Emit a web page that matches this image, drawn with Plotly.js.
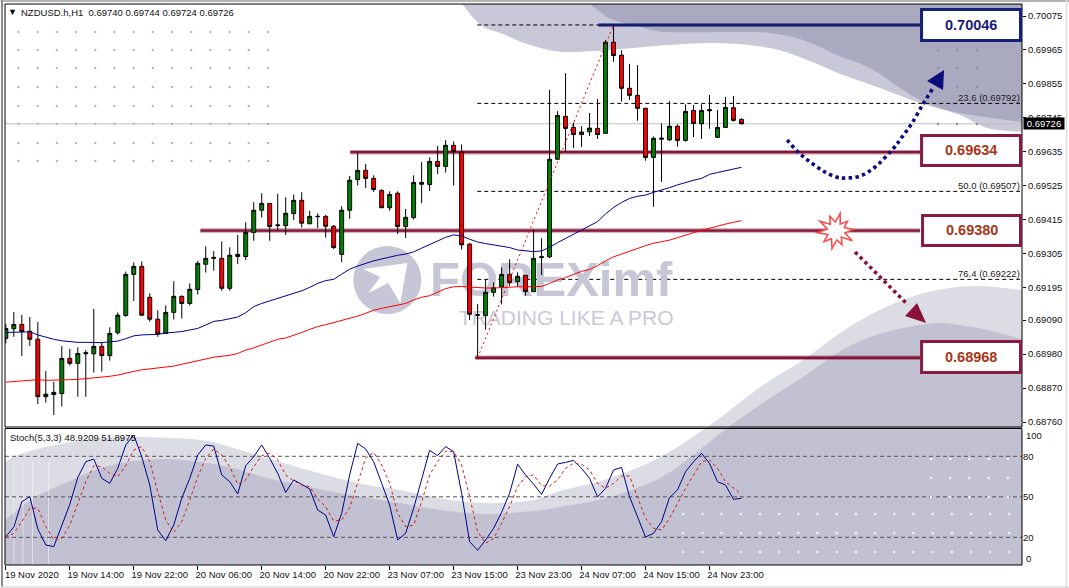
<!DOCTYPE html>
<html><head><meta charset="utf-8">
<script src="https://cdn.plot.ly/plotly-3.0.1.min.js"></script>
<style>html,body{margin:0;padding:0;background:#fff;overflow:hidden}</style>
</head><body><div id="chart" style="width:1069px;height:588px"></div>
<script>
// ---------- values ----------
const opens=[0.69031,0.69062,0.69076,0.69054,0.69028,0.68842,0.68849,0.68852,0.68966,0.68950,
0.68981,0.68981,0.69005,0.68975,0.69049,0.69105,0.69238,0.69264,0.69164,0.69093,
0.69047,0.69115,0.69167,0.69144,0.69189,0.69271,0.69290,0.69290,0.69193,0.69303,
0.69296,0.69374,0.69446,0.69468,0.69396,0.69396,0.69435,0.69478,0.69402,0.69425,
0.69426,0.69394,0.69303,0.69446,0.69545,0.69575,0.69549,0.69510,0.69454,0.69501,
0.69393,0.69422,0.69536,0.69529,0.69604,0.69588,0.69656,0.69634,0.69336,0.69106,
0.69105,0.69180,0.69198,0.69238,0.69215,0.69235,0.69182,0.69293,0.69295,0.69611,
0.69750,0.69714,0.69691,0.69700,0.69711,0.69695,0.69990,0.69948,0.69841,0.69818,
0.69776,0.69617,0.69676,0.69674,0.69718,0.69672,0.69769,0.69726,0.69768,0.69682,
0.69714,0.69778,0.69740];
const closes=[0.69063,0.69076,0.69053,0.69028,0.68842,0.68850,0.68856,0.68966,0.68950,0.68982,
0.68984,0.69005,0.68975,0.69047,0.69106,0.69238,0.69264,0.69106,0.69093,0.69045,
0.69115,0.69167,0.69144,0.69190,0.69274,0.69290,0.69293,0.69193,0.69300,0.69296,
0.69374,0.69446,0.69468,0.69393,0.69398,0.69436,0.69478,0.69404,0.69426,0.69426,
0.69394,0.69325,0.69446,0.69543,0.69575,0.69549,0.69513,0.69454,0.69497,0.69393,
0.69423,0.69536,0.69530,0.69604,0.69588,0.69656,0.69637,0.69334,0.69109,0.69107,
0.69180,0.69195,0.69238,0.69212,0.69232,0.69183,0.69290,0.69295,0.69611,0.69753,
0.69711,0.69691,0.69699,0.69712,0.69691,0.69990,0.69947,0.69841,0.69818,0.69776,
0.69617,0.69679,0.69679,0.69718,0.69672,0.69766,0.69727,0.69769,0.69771,0.69714,
0.69779,0.69737,0.69726];
const highs=[0.69078,0.69116,0.69107,0.69100,0.69084,0.68925,0.68890,0.69006,0.68997,0.69002,
0.68993,0.69126,0.69017,0.69067,0.69115,0.69247,0.69277,0.69280,0.69177,0.69122,
0.69138,0.69216,0.69170,0.69209,0.69282,0.69329,0.69314,0.69345,0.69326,0.69366,
0.69407,0.69472,0.69501,0.69468,0.69499,0.69488,0.69497,0.69504,0.69444,0.69436,
0.69431,0.69398,0.69459,0.69557,0.69632,0.69596,0.69559,0.69514,0.69507,0.69507,
0.69450,0.69559,0.69602,0.69617,0.69654,0.69673,0.69669,0.69659,0.69339,0.69142,
0.69221,0.69212,0.69261,0.69287,0.69245,0.69235,0.69384,0.69355,0.69835,0.69767,
0.69890,0.69730,0.69718,0.69761,0.69806,0.69997,0.70046,0.69964,0.69920,0.69916,
0.69778,0.69685,0.69727,0.69799,0.69724,0.69789,0.69787,0.69789,0.69819,0.69771,
0.69813,0.69816,0.69744];
const lows=[0.69015,0.69036,0.68974,0.69006,0.68818,0.68823,0.68783,0.68810,0.68943,0.68842,
0.68842,0.68920,0.68923,0.68959,0.69043,0.69101,0.69152,0.69103,0.69085,0.69036,
0.69047,0.69092,0.69095,0.69137,0.69173,0.69244,0.69250,0.69185,0.69185,0.69272,
0.69285,0.69347,0.69422,0.69347,0.69382,0.69366,0.69414,0.69390,0.69402,0.69388,
0.69357,0.69320,0.69278,0.69418,0.69526,0.69518,0.69505,0.69454,0.69444,0.69369,
0.69356,0.69416,0.69469,0.69508,0.69563,0.69568,0.69526,0.69319,0.69090,0.68968,
0.69059,0.69166,0.69141,0.69201,0.69198,0.69169,0.69182,0.69236,0.69291,0.69609,
0.69636,0.69647,0.69651,0.69686,0.69677,0.69695,0.69927,0.69798,0.69803,0.69736,
0.69606,0.69457,0.69538,0.69670,0.69652,0.69668,0.69683,0.69677,0.69710,0.69680,
0.69714,0.69733,0.69724];
const maBlue=[0.69050,0.69050,0.69050,0.69052,0.69042,0.69034,0.69028,0.69023,0.69020,0.69018,
0.69018,0.69018,0.69017,0.69020,0.69022,0.69030,0.69039,0.69042,0.69043,0.69044,
0.69048,0.69050,0.69053,0.69058,0.69063,0.69074,0.69086,0.69089,0.69095,0.69100,
0.69114,0.69134,0.69144,0.69152,0.69161,0.69169,0.69177,0.69185,0.69196,0.69209,
0.69218,0.69222,0.69239,0.69255,0.69265,0.69274,0.69282,0.69288,0.69295,0.69300,
0.69304,0.69311,0.69323,0.69334,0.69346,0.69358,0.69366,0.69363,0.69352,0.69343,
0.69338,0.69333,0.69329,0.69325,0.69317,0.69314,0.69312,0.69314,0.69326,0.69341,
0.69355,0.69368,0.69382,0.69396,0.69409,0.69434,0.69455,0.69471,0.69484,0.69491,
0.69495,0.69504,0.69511,0.69519,0.69528,0.69536,0.69543,0.69549,0.69562,0.69568,
0.69573,0.69579,0.69585];
const maRed=[0.68889,0.68891,0.68894,0.68897,0.68897,0.68895,0.68895,0.68896,0.68897,0.68898,
0.68900,0.68903,0.68906,0.68908,0.68912,0.68919,0.68924,0.68929,0.68932,0.68935,
0.68938,0.68941,0.68947,0.68952,0.68958,0.68964,0.68970,0.68972,0.68976,0.68982,
0.68993,0.69000,0.69010,0.69020,0.69028,0.69032,0.69040,0.69050,0.69060,0.69069,
0.69075,0.69082,0.69087,0.69094,0.69103,0.69112,0.69122,0.69128,0.69134,0.69138,
0.69144,0.69155,0.69164,0.69169,0.69181,0.69192,0.69198,0.69199,0.69197,0.69195,
0.69194,0.69194,0.69196,0.69197,0.69198,0.69198,0.69198,0.69199,0.69209,0.69220,
0.69228,0.69239,0.69248,0.69254,0.69266,0.69282,0.69295,0.69304,0.69314,0.69322,
0.69331,0.69339,0.69344,0.69349,0.69357,0.69366,0.69373,0.69381,0.69388,0.69396,
0.69401,0.69407,0.69412];
const stochMain=[20.5,27.6,46.4,50.1,26.2,14.3,13.1,29.1,44.4,64.4,
76,78,63.7,60,71.1,88.4,95.8,79.7,58.8,25.4,
17.5,29.1,48.9,63.7,81,88.4,87.6,66.2,61.2,52.1,
73.1,79.7,88.4,78.5,67.4,53.3,62.5,59.3,55.8,40.2,
36.5,20.5,37.8,66.2,89.6,85.4,76,60,43.9,18,
23,41.5,62.5,84.4,80.5,87.2,83.4,52.6,16.8,10.4,
18,26.7,38.5,52.6,74.1,66.2,59.3,51.8,63.7,74.3,
75.5,77,71.1,63.7,49.9,56.3,69.9,71.8,50.1,35.3,
20.2,23,31.6,49.4,55.1,68.6,76,82.2,74.8,61.2,
58.8,48.1,48.92];
const stochSignal=[19.7,23,31.6,41.5,41.5,27.9,18,19.2,29.1,45.2,
61.2,73.1,72.3,67.4,64.9,73.1,84.7,87.2,76,53.8,
32.8,23.7,31.6,47.6,64.9,78.5,85.4,81,72.3,59.3,
62.5,72.3,80.5,82.2,77.3,66.2,61.7,58.8,57.5,48.4,
42.7,32.1,32.8,42,61.2,78.5,83,73.6,60,37.8,
27.9,29.1,46.4,66.2,76,83.9,83.4,73.6,50.1,24.2,
15.6,19.2,30.4,42.7,57.5,64.9,66.2,58.3,58,62.5,
71.1,74.8,74.1,69.9,60,56.3,60,65.4,65.4,50.1,
34.1,26.7,25.4,34.1,45.2,56.3,66.2,76,77.3,71.1,
61.2,56.3,51.9];
const dateTickLabels=["19 Nov 2020","19 Nov 14:00","19 Nov 22:00","20 Nov 06:00","20 Nov 14:00","20 Nov 22:00","23 Nov 07:00","23 Nov 15:00","23 Nov 23:00","24 Nov 07:00","24 Nov 15:00","24 Nov 23:00"];
const priceTicks=[0.70075,0.69965,0.69855,0.69745,0.69635,0.69525,0.69415,0.69305,0.69195,0.69090,0.68980,0.68870,0.68760];
const priceTickLabels=["0.70075","0.69965","0.69855","0.69745","0.69635","0.69525","0.69415","0.69305","0.69195","0.69090","0.68980","0.68870","0.68760"];
const stochLevels=[80,50,20];
const resistanceBlue=0.70046, levelA=0.69634, levelB=0.69380, levelC=0.68968, lastPrice=0.69726;
const fibLevels=[0.69792,0.69507,0.69222], fibNames=["23.6 (0.69792)","50.0 (0.69507)","76.4 (0.69222)"];

// ---------- layout geometry ----------
const W=1069,H=588,L=4.5,R=1022,T=4,B=565,mainBot=427,stochTop=428.5;
const px=x=>(x-L)/(R-L), py=y=>(B-y)/(B-T);
const xRange=[-0.104,127.08], yRange=[0.687438,0.701139], sRange=[-0.5,100.6];
const toX=x=>xRange[0]+(x-L)/(R-L)*(xRange[1]-xRange[0]);
const toY=y=>yRange[1]-(y-T)/(mainBot-T)*(yRange[1]-yRange[0]);
const toS=y=>sRange[1]-(y-stochTop)/(B-stochTop)*(sRange[1]-sRange[0]);
const idx=opens.map((_,i)=>i);
const FONT='"Liberation Sans",Arial,sans-serif';

function smooth(pts){ // Catmull-Rom through pixel points, returns path segments in paper coords
  let s=`M ${px(pts[0][0])} ${py(pts[0][1])}`;
  for(let i=0;i<pts.length-1;i++){
    const p0=pts[Math.max(i-1,0)],p1=pts[i],p2=pts[i+1],p3=pts[Math.min(i+2,pts.length-1)];
    const c1=[p1[0]+(p2[0]-p0[0])/6,p1[1]+(p2[1]-p0[1])/6],c2=[p2[0]-(p3[0]-p1[0])/6,p2[1]-(p3[1]-p1[1])/6];
    s+=` C ${px(c1[0])} ${py(c1[1])} ${px(c2[0])} ${py(c2[1])} ${px(p2[0])} ${py(p2[1])}`;
  }
  return s;
}
const poly=pts=>'M '+pts.map(p=>`${px(p[0])} ${py(p[1])}`).join(' L ')+' Z';
const lineTo=pts=>pts.map(p=>` L ${px(p[0])} ${py(p[1])}`).join('');
const pFill=(d,c)=>({type:'path',xref:'paper',yref:'paper',path:d,fillcolor:c,line:{width:0},layer:'below'});

const bandLightPts=[[4.5,463],[17,455],[50,446],[100,438],[140,437],[200,440],[233,448],[267,458],[300,468],[333,477],[367,485],[400,490],[433,497],[467,502],[500,503],[533,500],[560,491],[610,478],[660,457],[710,425],[763,385],[803,360],[837,335],[870,315],[903,300],[937,290],[977,286],[1022,290]];
const bandMidPts=[[4.5,520],[33,498],[67,482],[100,468],[133,461],[167,459],[200,462],[233,468],[267,478],[300,485],[333,492],[367,498],[400,503],[433,509],[483,514],[533,511],[560,507],[610,497],[660,478],[693,455],[727,428],[770,398],[803,377],[837,353],[870,337],[903,328],[937,323],[960,325],[987,330],[1022,339]];
const topLightPts=[[462,4],[475,20],[485,28],[500,33],[530,45],[567,52],[633,48],[667,45],[717,43],[770,48],[807,60],[843,75],[877,87],[920,103],[960,115],[987,128],[1022,132]];
const topDarkPts=[[590,4],[600,12],[613,20],[640,27],[667,32],[733,32],[770,33],[803,40],[837,55],[870,68],[903,90],[927,103],[960,113],[1022,122]];

const shapes=[
  pFill(smooth(bandLightPts)+lineTo([[1022,565],[4.5,565]])+' Z','#dcdce5'),
  pFill(smooth(bandMidPts)+lineTo([[1022,565],[4.5,565]])+' Z','#c1c1d1'),
  pFill(smooth(topLightPts)+lineTo([[1022,4]])+' Z','#c8c8d8'),
  pFill(smooth(topDarkPts)+lineTo([[1022,4]])+' Z','#a9a9bf'),
];
// faint streaks in the indicator pane
[13.5,22.5,32,48].forEach(x=>shapes.push({type:'line',xref:'paper',yref:'paper',x0:px(x),x1:px(x),y0:py(462),y1:py(565),line:{color:'rgba(255,255,255,0.5)',width:1},layer:'below'}));
const hLine=(x0,x1,y,color,width,dash,layer)=>({type:'line',xref:'paper',yref:'y',x0:px(x0),x1:px(x1),y0:y,y1:y,line:{color,width,dash:dash||'solid'},layer:layer||'below'});
// current price, fib and level lines
shapes.push(hLine(4.5,1022,lastPrice,'#c0c0c0',1));
fibLevels.forEach(f=>shapes.push(hLine(477,1020,f,'#000',1,'4px,3px')));
shapes.push(hLine(477,600,resistanceBlue,'#000',1,'4px,3px'));
[[350,levelA],[200,levelB],[475,levelC]].forEach(([x,y])=>{
  shapes.push(hLine(x,920,y,'rgba(139,26,62,0.45)',4.5));
  shapes.push(hLine(x,920,y,'#821638',2.4));
});
shapes.push(hLine(598,920,resistanceBlue,'rgba(20,30,130,0.4)',4));
shapes.push(hLine(598,920,resistanceBlue,'#14206e',2.4));
stochLevels.forEach(v=>shapes.push({type:'line',xref:'paper',yref:'y2',x0:0,x1:1,y0:v,y1:v,line:{color:'#555',width:1,dash:'4px,3px'},layer:'below'}));
// fib trend line
shapes.push({type:'line',xref:'x',yref:'y',x0:59,x1:76,y0:levelC,y1:resistanceBlue,line:{color:'#ff0000',width:1,dash:'2px,3px'},layer:'above'});
// pane frames
shapes.push({type:'rect',xref:'paper',yref:'paper',x0:0,x1:1,y0:py(mainBot),y1:1,line:{color:'#000',width:1},layer:'above'});
shapes.push({type:'rect',xref:'paper',yref:'paper',x0:0,x1:1,y0:0,y1:py(stochTop),line:{color:'#000',width:1},layer:'above'});
// window edges
[[1.5,1.5,0,588,'#8c8c8c',2],[0,1069,1,1,'#9a9a9a',1.5],[1066.5,1066.5,0,588,'#dcdcdc',1.5],[0,1069,587,587,'#dcdcdc',1.5]].forEach(a=>shapes.push({type:'line',xref:'paper',yref:'paper',x0:px(a[0]),x1:px(a[1]),y0:py(a[2]),y1:py(a[3]),line:{color:a[4],width:a[5]},layer:'above'}));
// forecast arrows
const navy='#0c0c7c',maroon='#8a1238';
shapes.push({type:'path',xref:'paper',yref:'paper',layer:'above',line:{color:navy,width:3.6,dash:'3.4px,3.4px'},
  path:smooth([[787,140],[798,152],[810,162],[823,171],[836,177],[846,178],[860,176],[875,167],[892,150],[902,137],[912,123],[923,104],[933,88]])});
shapes.push({type:'path',xref:'paper',yref:'paper',layer:'above',fillcolor:navy,line:{width:0},path:poly([[944,70],[927,81],[943,90]])});
shapes.push({type:'line',xref:'paper',yref:'paper',layer:'above',x0:px(855),y0:py(252),x1:px(908),y1:py(305),line:{color:maroon,width:3.6,dash:'3.4px,3.4px'}});
shapes.push({type:'path',xref:'paper',yref:'paper',layer:'above',fillcolor:maroon,line:{width:0},path:poly([[926,323],[905,316],[917,303]])});
// burst
const burstR=[19,9,16,9,18,8,15,9,17,9,19,8,15,9,18,9,16,9,19,9];
const burst=burstR.map((r,i)=>{const a=-2.6+i*2*Math.PI/burstR.length;return [836+r*Math.cos(a),231+r*Math.sin(a)];});
shapes.push({type:'path',xref:'paper',yref:'paper',layer:'above',fillcolor:'#fff',line:{color:'#ff4b4b',width:1.6},path:poly(burst)});
// price boxes
const boxes=[[920,8,1022,42,'#16207a','0.70046','#1a1a78'],[920,134,1022,167,'#8a1a40','0.69634','#a8351a'],[921,214,1022,247,'#8a1a40','0.69380','#a8351a'],[920,340,1022,374,'#8a1a40','0.68968','#a8351a']];
boxes.forEach(b=>shapes.push({type:'rect',xref:'paper',yref:'paper',layer:'above',x0:px(b[0]+1.5),x1:px(b[2]-1.5),y0:py(b[1]+1.5),y1:py(b[3]-1.5),fillcolor:'#fff',line:{color:b[4],width:3}}));

const note=(x,y,text,o)=>Object.assign({xref:'paper',yref:'paper',x:px(x),y:py(y),text,showarrow:false,xanchor:'left',yanchor:'middle',font:{family:FONT,size:9.5,color:'#111'},borderpad:0},o||{});
const annotations=[
  note(6.5,11.5,'▼',{font:{family:FONT,size:9,color:'#000'}}),
  note(20,12.5,'NZDUSD.h,H1  0.69740 0.69744 0.69724 0.69726'),
  note(9,437.5,'Stoch(5,3,3) 48.9209 51.8975'),
  note(1025.5,435.5,'100'),note(1025.5,558.5,'0'),
  note(1023,124,'0.69726',{bgcolor:'#000',font:{family:FONT,size:9.5,color:'#fff'},width:40,height:11,align:'center'}),
];
fibNames.forEach((t,i)=>annotations.push({xref:'paper',yref:'y',x:px(1022),y:fibLevels[i],yshift:6,text:t,showarrow:false,xanchor:'right',yanchor:'middle',font:{family:FONT,size:9.5,color:'#222'}}));
boxes.forEach(b=>annotations.push(note((b[0]+b[2])/2,(b[1]+b[3])/2,b[5],{xanchor:'center',font:{family:FONT,size:14.5,color:b[6],weight:700}})));

// decorative dot grids
const leftDots={x:[],y:[]},rightDots={x:[],y:[]},paneDots={x:[],y:[]};
const colX=k=>18+k*19.2;
[32,50,68,87,106,124,143,161].forEach(y=>{for(let k=0;k<14;k++){leftDots.x.push(toX(colX(k)));leftDots.y.push(toY(y));}});
[50,68,87,124].forEach(y=>{[938,957,977].forEach(x=>{rightDots.x.push(toX(x));rightDots.y.push(toY(y));});});
[514,533,552].forEach(y=>{for(let k=0;k<18;k++){paneDots.x.push(toX(683+k*19.2));paneDots.y.push(toS(y));}});
[459,478,497].forEach(y=>{for(let k=0;k<5;k++){paneDots.x.push(toX(931+k*19.2));paneDots.y.push(toS(y));}});

const logoArrow=[[363,269],[407,263],[400,303],[388,283],[368,293],[380,277]];
const traces=[
  {type:'scatter',mode:'markers',x:leftDots.x,y:leftDots.y,xaxis:'x',yaxis:'y',marker:{size:2.4,color:'#b4b4cc'},hoverinfo:'skip'},
  {type:'scatter',mode:'markers',x:rightDots.x,y:rightDots.y,xaxis:'x',yaxis:'y',marker:{size:2.4,color:'#8e8ea6'},hoverinfo:'skip'},
  {type:'scatter',mode:'markers',x:[toX(387)],y:[toY(280)],xaxis:'x',yaxis:'y',marker:{size:68,color:'#c6c6d6',line:{width:0}},hoverinfo:'skip'},
  {type:'scatter',mode:'lines',x:logoArrow.concat([logoArrow[0]]).map(p=>toX(p[0])),y:logoArrow.concat([logoArrow[0]]).map(p=>toY(p[1])),xaxis:'x',yaxis:'y',fill:'toself',fillcolor:'#fff',line:{width:0},hoverinfo:'skip'},
  {type:'scatter',mode:'text',x:[toX(551)],y:[toY(284)],xaxis:'x',yaxis:'y',text:['FOREXimf'],textposition:'middle center',textfont:{family:FONT,size:49,color:'#c6c6d6',weight:700},hoverinfo:'skip'},
  {type:'scatter',mode:'text',x:[toX(566)],y:[toY(320)],xaxis:'x',yaxis:'y',text:['TRADING LIKE A PRO'],textposition:'middle center',textfont:{family:FONT,size:21,color:'#c9c9d8'},hoverinfo:'skip'},
  {type:'candlestick',x:idx,open:opens,high:highs,low:lows,close:closes,xaxis:'x',yaxis:'y3',whiskerwidth:0,
    increasing:{line:{color:'#000',width:1},fillcolor:'#008000'},decreasing:{line:{color:'#000',width:1},fillcolor:'#ff0000'},hoverinfo:'skip'},
  {type:'scatter',mode:'lines',x:idx,y:maBlue,xaxis:'x',yaxis:'y3',line:{color:'#00008b',width:1},hoverinfo:'skip'},
  {type:'scatter',mode:'lines',x:idx,y:maRed,xaxis:'x',yaxis:'y3',line:{color:'#ff0000',width:1},hoverinfo:'skip'},
  {type:'scatter',mode:'markers',x:paneDots.x,y:paneDots.y,xaxis:'x',yaxis:'y2',marker:{size:2.6,color:'#f4f4f8'},hoverinfo:'skip'},
  {type:'scatter',mode:'lines',x:idx,y:stochMain,xaxis:'x',yaxis:'y2',line:{color:'#00008b',width:1},hoverinfo:'skip'},
  {type:'scatter',mode:'lines',x:idx,y:stochSignal,xaxis:'x',yaxis:'y2',line:{color:'#d81818',width:1,dash:'3px,3px'},hoverinfo:'skip'},
];
const dateTickVals=dateTickLabels.map((_,k)=>k*8);
const layout={
  width:W,height:H,showlegend:false,hovermode:false,paper_bgcolor:'#fff',plot_bgcolor:'#fff',
  margin:{l:L,r:W-R,t:T,b:H-B,pad:0},
  font:{family:FONT,size:9.5,color:'#111'},
  xaxis:{range:xRange,anchor:'y2',domain:[0,1],rangeslider:{visible:false},tickmode:'array',tickvals:dateTickVals,ticktext:dateTickLabels,
    ticks:'outside',ticklen:4,tickcolor:'#000',tickwidth:1,ticklabelshift:26,ticklabelstandoff:-3,tickangle:0,showgrid:false,zeroline:false,showline:false,tickfont:{family:FONT,size:9.5,color:'#111'}},
  yaxis:{domain:[py(mainBot),1],range:yRange,anchor:'x',side:'right',tickmode:'array',tickvals:priceTicks,ticktext:priceTickLabels,ticks:'outside',ticklen:3,tickcolor:'#000',
    showgrid:false,zeroline:false,showline:false,tickfont:{family:FONT,size:9.5,color:'#111'}},
  yaxis3:{overlaying:'y',range:yRange,anchor:'x',side:'right',visible:false,showgrid:false,zeroline:false},
  yaxis2:{domain:[0,py(stochTop)],range:sRange,anchor:'x',side:'right',tickmode:'array',tickvals:stochLevels,ticks:'',showgrid:false,zeroline:false,showline:false,tickfont:{family:FONT,size:9.5,color:'#111'}},
  shapes,annotations
};
Plotly.newPlot('chart',traces,layout,{staticPlot:true,displayModeBar:false});
</script></body></html>
